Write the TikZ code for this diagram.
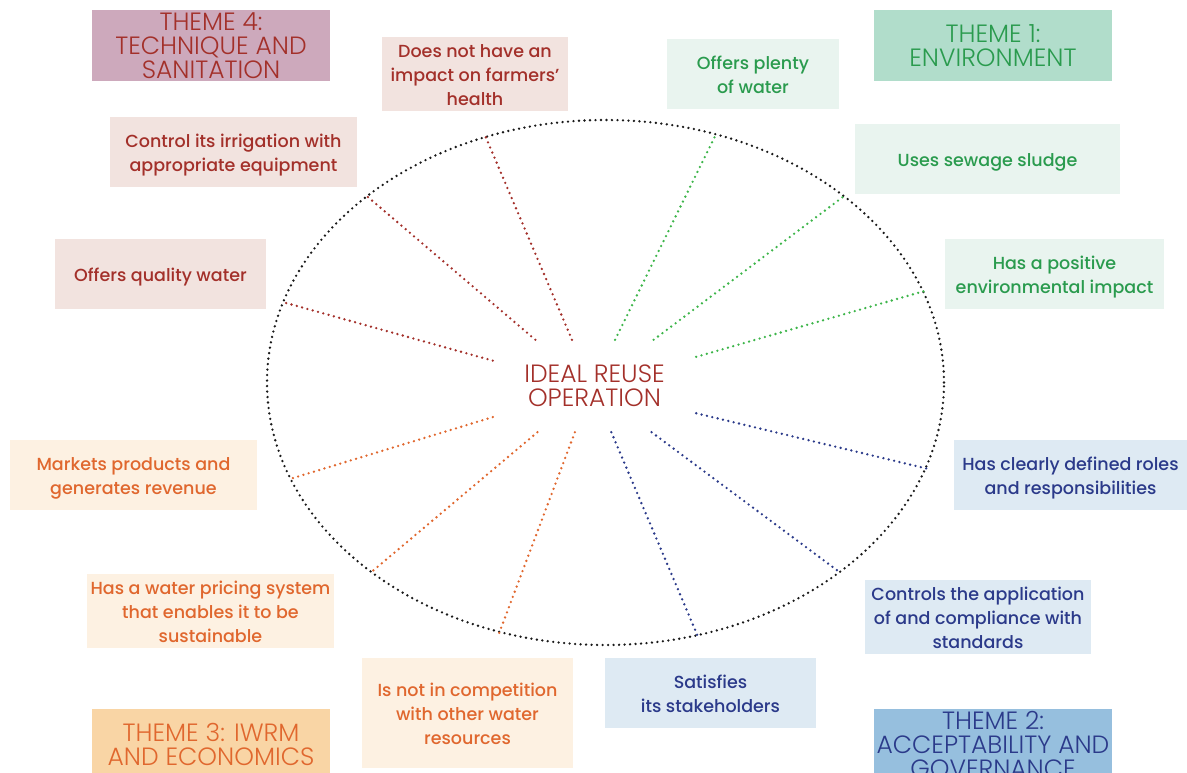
\documentclass[tikz,border=0pt]{standalone}
\usepackage{fontspec}
\setmainfont{Poppins Medium}
\newfontfamily\thinfont{Poppins Light}
\usetikzlibrary{shapes,positioning}

\definecolor{redtxt}{HTML}{A3302A}
\definecolor{redbg}{HTML}{F2E3DF}
\definecolor{redhead}{HTML}{CDA9BC}
\definecolor{greentxt}{HTML}{2A9B4E}
\definecolor{greenline}{HTML}{3DB54A}
\definecolor{greenbg}{HTML}{E9F4EF}
\definecolor{greenhead}{HTML}{B1DDCB}
\definecolor{bluetxt}{HTML}{2B3A8A}
\definecolor{bluebg}{HTML}{DEEAF3}
\definecolor{bluehead}{HTML}{96BFDE}
\definecolor{orangetxt}{HTML}{E0672E}
\definecolor{orangebg}{HTML}{FDF1E2}
\definecolor{orangehead}{HTML}{F9D5A5}

\tikzset{
    box/.style = {align=center, inner sep=0pt, minimum height=70pt,
        font=\fontsize{17.5}{24}\selectfont,
        execute at begin node={\rule{0pt}{\dimexpr 24pt*(#1-1)+20.5pt\relax}},
        execute at end node={\rule[-5pt]{0pt}{0pt}}},
    box/.default = 1,
    theme/.style = {align=center, inner sep=0pt, minimum width=238pt, minimum height=71pt,
        font=\thinfont\fontsize{25}{24}\selectfont},
    hub/.style = {rectangle, inner sep=0pt, minimum width=203pt, minimum height=92pt,
        align=center, text=redtxt, font=\thinfont\fontsize{25}{24}\selectfont},
    ring/.style = {ellipse, draw=black!90, inner sep=0pt, minimum width=677pt,
        minimum height=525pt, line width=2.6pt, line cap=round, dash pattern=on 0pt off 5.5pt},
    spoke/.style = {line width=2.6pt, line cap=round, dash pattern=on 0pt off 5.5pt}
}

\begin{document}
\begin{tikzpicture}[x=1pt, y=-1pt]
    \useasboundingbox (0,0) rectangle (1187,773);

    \node[ring] (ring) at (605.5, 382.5) {};
    \node[hub] (hub) at (594.5, 386) {IDEAL REUSE\\OPERATION};

    % theme 4
    \node[theme, fill=redhead, text=redtxt] (t4) at (211, 45.5) {THEME 4:\\TECHNIQUE AND\\SANITATION};
    \node[box=3, fill=redbg, text=redtxt, minimum width=186pt] (health) at (475, 74) {Does not have an\\impact on farmers'\\health};
    \node[box=2, fill=redbg, text=redtxt, minimum width=247pt] (irrig) at (233.5, 152) {Control its irrigation with\\appropriate equipment};
    \node[box, fill=redbg, text=redtxt, minimum width=211pt] (quality) at (160.5, 274) {Offers quality water};

    % theme 1
    \node[theme, fill=greenhead, text=greentxt] (t1) at (993, 45.5) {THEME 1:\\ENVIRONMENT};
    \node[box=2, fill=greenbg, text=greentxt, minimum width=172pt] (plenty) at (753, 74) {Offers plenty\\of water};
    \node[box, fill=greenbg, text=greentxt, minimum width=265pt] (sludge) at (987.5, 159) {Uses sewage sludge};
    \node[box=2, fill=greenbg, text=greentxt, minimum width=219pt] (impact) at (1054.5, 274) {Has a positive\\environmental impact};

    % theme 2
    \node[box=2, fill=bluebg, text=bluetxt, minimum width=233pt] (roles) at (1070.5, 475) {Has clearly defined roles\\and responsibilities};
    \node[box=3, fill=bluebg, text=bluetxt, minimum width=226pt] (stand) at (978, 617) {Controls the application\\of and compliance with\\standards};
    \node[box=2, fill=bluebg, text=bluetxt, minimum width=211pt] (stake) at (710.5, 693) {Satisfies\\its stakeholders};
    \node[theme, fill=bluehead, text=bluetxt] (t2) at (993, 744.5) {THEME 2:\\ACCEPTABILITY AND\\GOVERNANCE};

    % theme 3
    \node[box=3, fill=orangebg, text=orangetxt, minimum width=211pt, minimum height=110pt] (compet) at (467.5, 713) {Is not in competition\\with other water\\resources};
    \node[box=3, fill=orangebg, text=orangetxt, minimum width=247pt] (pricing) at (210.5, 611) {Has a water pricing system\\that enables it to be\\sustainable};
    \node[box=2, fill=orangebg, text=orangetxt, minimum width=247pt] (market) at (133.5, 475) {Markets products and\\generates revenue};
    \node[theme, fill=orangehead, text=orangetxt] (t3) at (211, 744.5) {THEME 3: IWRM\\AND ECONOMICS};

    \foreach \a in {116,142,166}
        \draw[spoke, redtxt] (hub.\a) -- (ring.\a);
    \foreach \a in {66,38,16}
        \draw[spoke, greenline] (hub.\a) -- (ring.\a);
    \foreach \a in {-15,-39,-70}
        \draw[spoke, bluetxt] (hub.\a) -- (ring.\a);
    \foreach \a in {247,219,197}
        \draw[spoke, orangetxt] (hub.\a) -- (ring.\a);
\end{tikzpicture}
\end{document}
